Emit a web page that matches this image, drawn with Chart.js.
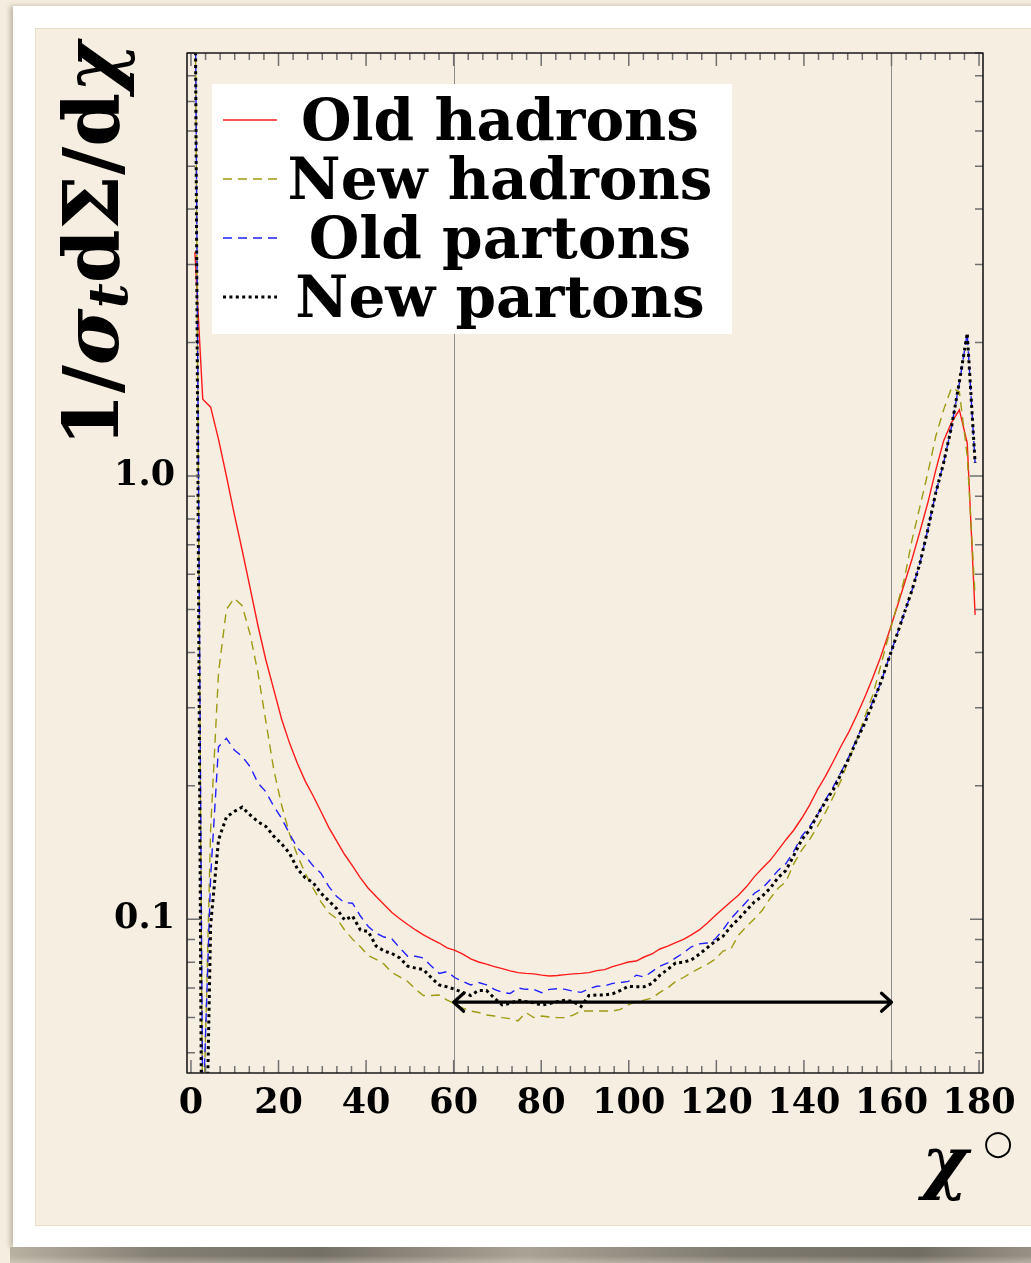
<!DOCTYPE html>
<html>
<head>
<meta charset="utf-8">
<script src="https://cdn.jsdelivr.net/npm/chart.js@4.4.1/dist/chart.umd.min.js"></script>
<style>
  html, body { margin: 0; padding: 0; }
  body { width: 1031px; height: 1263px; overflow: hidden; position: relative; background: #f5eee0; }
  .card { position: absolute; left: 13px; top: 6px; width: 1040px; height: 1241px; background: #fff;
          box-shadow: -3px 0 5px rgba(90, 80, 60, 0.35); }
  .panel { position: absolute; left: 35px; top: 28px; width: 1010px; height: 1196px;
           background: #f6efe1; border: 1px solid #e8dfcb; }
  .curl { position: absolute; left: 10px; top: 1247px; width: 1030px; height: 16px;
          background:
            linear-gradient(to bottom, rgba(245,238,224,0) 0%, rgba(245,238,224,0) 55%, rgba(245,238,224,0.35) 100%),
            linear-gradient(to right, #b8b1a2 0%, #858074 14%, #757066 30%, #a9a395 50%, #807b70 70%, #726d63 88%, #9a9488 100%); }
  #chart { position: absolute; left: 0; top: 0; }
</style>
</head>
<body>
<div class="card"></div>
<div class="panel"></div>
<div class="curl"></div>
<canvas id="chart" width="1031" height="1263"></canvas>
<script>
// 100 bins of 1.8 degrees over 0..180
const BIN_WIDTH = 1.8;

const oldHadrons = [
  3.2, 1.49, 1.43, 1.21, 1.0, 0.82, 0.68, 0.56, 0.46, 0.385,
  0.33, 0.283, 0.25, 0.225, 0.205, 0.19, 0.175, 0.161, 0.15, 0.14,
  0.132, 0.124, 0.1175, 0.1125, 0.108, 0.1036, 0.1003, 0.0973, 0.0946, 0.0922,
  0.0902, 0.0884, 0.0862, 0.0851, 0.0834, 0.0814, 0.0801, 0.0792, 0.0782, 0.0774,
  0.0765, 0.0758, 0.0755, 0.0753, 0.0748, 0.0745, 0.0747, 0.075, 0.0753, 0.0755,
  0.0758, 0.0766, 0.077, 0.0782, 0.0791, 0.0801, 0.0805, 0.0822, 0.0835, 0.0857,
  0.087, 0.0886, 0.0901, 0.0922, 0.0946, 0.098, 0.1019, 0.1056, 0.1095, 0.1134,
  0.1185, 0.1248, 0.1303, 0.1358, 0.1432, 0.1512, 0.159, 0.169, 0.181, 0.196,
  0.21, 0.227, 0.246, 0.265, 0.289, 0.317, 0.35, 0.39, 0.44, 0.5,
  0.57, 0.65, 0.75, 0.87, 1.03, 1.2, 1.32, 1.41, 1.187, 0.486
];

const newHadrons = [
  15, 0.03, 0.16, 0.36, 0.5, 0.53, 0.51, 0.44, 0.36, 0.28,
  0.218, 0.181, 0.156, 0.1394, 0.127, 0.1175, 0.1095, 0.1034, 0.1003, 0.0946,
  0.0902, 0.0867, 0.0828, 0.0812, 0.0792, 0.0758, 0.0741, 0.0724, 0.0695, 0.0673,
  0.0673, 0.0675, 0.0657, 0.0645, 0.063, 0.0621, 0.0616, 0.0608, 0.0605, 0.06,
  0.0597, 0.059, 0.0616, 0.06, 0.0605, 0.0602, 0.06, 0.06, 0.0608, 0.0621,
  0.0621, 0.0621, 0.0621, 0.0621, 0.0626, 0.0641, 0.0652, 0.0657, 0.0664, 0.0684,
  0.07, 0.0724, 0.0739, 0.0758, 0.0775, 0.0791, 0.0812, 0.0848, 0.0857, 0.0922,
  0.0963, 0.1003, 0.1048, 0.1115, 0.1175, 0.1215, 0.1335, 0.1432, 0.1512, 0.162,
  0.174, 0.189, 0.206, 0.23, 0.254, 0.2865, 0.32, 0.372, 0.434, 0.504,
  0.584, 0.718, 0.854, 1.016, 1.228, 1.41, 1.58, 1.55, 1.11, 0.535
];

const oldPartons = [
  17, 0.035, 0.125, 0.245, 0.256, 0.241, 0.233, 0.221, 0.203, 0.194,
  0.18, 0.169, 0.156, 0.145, 0.139, 0.132, 0.127, 0.1185, 0.1125, 0.109,
  0.1087, 0.1017, 0.0963, 0.093, 0.0912, 0.0903, 0.0862, 0.0825, 0.0825, 0.0818,
  0.0784, 0.0755, 0.0762, 0.0738, 0.0724, 0.0711, 0.072, 0.0711, 0.0695, 0.0684,
  0.068, 0.07, 0.0695, 0.0695, 0.0683, 0.0695, 0.0697, 0.0695, 0.0688, 0.0684,
  0.0697, 0.0706, 0.0707, 0.0717, 0.072, 0.0724, 0.0748, 0.0741, 0.0762, 0.0784,
  0.0797, 0.0818, 0.084, 0.0867, 0.088, 0.0884, 0.0902, 0.0946, 0.1003, 0.1048,
  0.1095, 0.1145, 0.1175, 0.1228, 0.1289, 0.1335, 0.1424, 0.154, 0.162, 0.172,
  0.186, 0.199, 0.215, 0.233, 0.256, 0.279, 0.31, 0.34, 0.385, 0.434,
  0.49, 0.553, 0.636, 0.757, 0.915, 1.07, 1.29, 1.62, 2.1, 1.07
];

const newPartons = [
  17, 0.011, 0.097, 0.151, 0.17, 0.175, 0.179, 0.172, 0.166, 0.162,
  0.154, 0.148, 0.141, 0.13, 0.124, 0.121, 0.1145, 0.11, 0.1056, 0.0996,
  0.1017, 0.0946, 0.0938, 0.087, 0.0848, 0.0837, 0.0818, 0.0784, 0.0776, 0.077,
  0.0738, 0.0711, 0.0704, 0.0695, 0.0684, 0.0673, 0.0691, 0.0691, 0.0664, 0.0641,
  0.0646, 0.0657, 0.0652, 0.0648, 0.0641, 0.0645, 0.0652, 0.0657, 0.0652, 0.0636,
  0.0673, 0.0675, 0.0675, 0.0679, 0.0691, 0.0706, 0.0704, 0.0704, 0.0717, 0.0748,
  0.0771, 0.0797, 0.08, 0.081, 0.0834, 0.0862, 0.0892, 0.0915, 0.0963, 0.1003,
  0.1048, 0.1095, 0.1128, 0.1175, 0.1242, 0.1289, 0.1394, 0.1512, 0.159, 0.172,
  0.184, 0.196, 0.213, 0.231, 0.254, 0.277, 0.307, 0.341, 0.385, 0.434,
  0.49, 0.553, 0.636, 0.757, 0.915, 1.07, 1.29, 1.63, 2.1, 1.07
];

const seriesLabels = ['Old hadrons', 'New hadrons', 'Old partons', 'New partons'];
const xTickValues = [0, 20, 40, 60, 80, 100, 120, 140, 160, 180];
const yTickValues = [0.1, 1.0];
const markerAngles = [60, 160];   // vertical reference lines
const arrowSpan = [60, 160];      // fit range arrow
const arrowLevel = 0.065;

const binCentres = oldHadrons.map((_, i) => BIN_WIDTH * (i + 0.5));
const toPoints = vals => vals.map((v, i) => ({ x: binCentres[i], y: v }));

const SERIF = '"DejaVu Serif", "Liberation Serif", serif';
const tickFont = { family: SERIF, size: 35, weight: 'bold' };

const decor = {
  id: 'decor',
  beforeDatasetsDraw(chart) {
    const { ctx, chartArea: a, scales: { x } } = chart;
    ctx.save();
    ctx.strokeStyle = '#8c8c8c';
    ctx.lineWidth = 1;
    markerAngles.forEach(v => {
      const px = Math.round(x.getPixelForValue(v)) + 0.5;
      ctx.beginPath();
      ctx.moveTo(px, a.top);
      ctx.lineTo(px, a.bottom);
      ctx.stroke();
    });
    ctx.restore();
  },
  afterDatasetsDraw(chart) {
    const { ctx, chartArea: a, scales: { x, y } } = chart;
    ctx.save();

    // arrow across the fit range
    const ay = y.getPixelForValue(arrowLevel);
    const ax0 = x.getPixelForValue(arrowSpan[0]);
    const ax1 = x.getPixelForValue(arrowSpan[1]);
    ctx.strokeStyle = '#000';
    ctx.lineWidth = 3.2;
    ctx.lineCap = 'round';
    ctx.lineJoin = 'round';
    ctx.beginPath();
    ctx.moveTo(ax0, ay); ctx.lineTo(ax1, ay);
    ctx.moveTo(ax0 + 10, ay - 9); ctx.lineTo(ax0, ay); ctx.lineTo(ax0 + 10, ay + 9);
    ctx.moveTo(ax1 - 10, ay - 9); ctx.lineTo(ax1, ay); ctx.lineTo(ax1 - 10, ay + 9);
    ctx.stroke();

    // inward tick marks on all four sides
    ctx.lineCap = 'butt';
    ctx.strokeStyle = '#707070';
    ctx.lineWidth = 1.5;
    ctx.beginPath();
    for (let k = 0; k <= 54; k++) {
      const v = k * 10 / 3;
      const len = k % 6 === 0 ? 13 : 7;
      const px = x.getPixelForValue(v);
      ctx.moveTo(px, a.bottom); ctx.lineTo(px, a.bottom - len);
      ctx.moveTo(px, a.top); ctx.lineTo(px, a.top + len);
    }
    [0.01, 0.1, 1].forEach(dec => {
      for (let m = 1; m <= 9; m++) {
        const v = m * dec;
        if (v < y.min || v > y.max) continue;
        const len = m === 1 ? 13 : 8;
        const py = y.getPixelForValue(v);
        ctx.moveTo(a.left, py); ctx.lineTo(a.left + len, py);
        ctx.moveTo(a.right, py); ctx.lineTo(a.right - len, py);
      }
    });
    ctx.stroke();

    // frame
    ctx.strokeStyle = '#1a1a1a';
    ctx.lineWidth = 1.6;
    ctx.strokeRect(a.left, a.top, a.right - a.left, a.bottom - a.top);

    // legend
    const lx = a.left + 25, ly = a.top + 31;
    ctx.fillStyle = '#ffffff';
    ctx.fillRect(lx, ly, 520, 250);
    ctx.font = 'bold 58px ' + SERIF;
    const wRef = ctx.measureText('Old hadrons').width;
    const sx = Math.min(1.25, Math.max(0.85, 398 / wRef));
    chart.data.datasets.forEach((ds, i) => {
      const base = ly + 56 + i * 59;
      ctx.save();
      ctx.strokeStyle = ds.borderColor;
      ctx.lineWidth = ds.borderWidth;
      ctx.setLineDash(ds.borderDash || []);
      ctx.beginPath();
      ctx.moveTo(lx + 11, base - 20);
      ctx.lineTo(lx + 65, base - 20);
      ctx.stroke();
      ctx.restore();
      ctx.save();
      ctx.translate(lx + 288, base);
      ctx.scale(sx, 1);
      ctx.fillStyle = '#000';
      ctx.textAlign = 'center';
      ctx.textBaseline = 'alphabetic';
      ctx.fillText(ds.label, 0, 0);
      ctx.restore();
    });

    // y-axis title: 1/sigma_t dSigma/dchi, read bottom to top
    const parts = [
      { t: '1/', st: 'bold', s: 1, dy: 0 },
      { t: 'σ', st: 'italic bold', s: 1, dy: 0 },
      { t: 't', st: 'italic bold', s: 0.7, dy: 9 },
      { t: 'dΣ/d', st: 'bold', s: 1, dy: 0 },
      { t: 'χ', st: 'italic bold', s: 1, dy: 0 }
    ];
    let total = 0;
    parts.forEach(p => {
      ctx.font = p.st + ' ' + (100 * p.s) + 'px ' + SERIF;
      total += ctx.measureText(p.t).width;
    });
    const size = 100 * 405 / total;
    ctx.save();
    ctx.translate(118, 447);
    ctx.rotate(-Math.PI / 2);
    ctx.fillStyle = '#000';
    ctx.textBaseline = 'alphabetic';
    let cx = 0;
    parts.forEach(p => {
      ctx.font = p.st + ' ' + (size * p.s) + 'px ' + SERIF;
      ctx.fillText(p.t, cx, p.dy);
      cx += ctx.measureText(p.t).width;
    });
    ctx.restore();

    // x-axis title
    ctx.fillStyle = '#000';
    ctx.font = 'italic bold 70px ' + SERIF;
    ctx.textAlign = 'left';
    ctx.textBaseline = 'alphabetic';
    ctx.fillText('χ', 922, 1186);
    ctx.font = '34px "DejaVu Sans", sans-serif';
    ctx.textAlign = 'center';
    ctx.textBaseline = 'middle';
    ctx.fillText('○', 998, 1145);

    ctx.restore();
  }
};

new Chart(document.getElementById('chart'), {
  type: 'line',
  data: {
    datasets: [
      { label: seriesLabels[0], data: toPoints(oldHadrons), borderColor: '#ff1a1a',
        borderWidth: 1.4, order: 3 },
      { label: seriesLabels[1], data: toPoints(newHadrons), borderColor: '#9f9a12',
        borderWidth: 1.4, borderDash: [9, 6], order: 2 },
      { label: seriesLabels[2], data: toPoints(oldPartons), borderColor: '#1f1fff',
        borderWidth: 1.4, borderDash: [9, 6], order: 1 },
      { label: seriesLabels[3], data: toPoints(newPartons), borderColor: '#000000',
        borderWidth: 3, borderDash: [3, 3.4], order: 0 }
    ]
  },
  options: {
    responsive: false,
    animation: false,
    devicePixelRatio: 1,
    elements: { point: { radius: 0 }, line: { tension: 0, fill: false } },
    layout: { padding: { left: 0, top: 53, right: 48, bottom: 0 } },
    plugins: { legend: { display: false }, tooltip: { enabled: false } },
    scales: {
      x: {
        type: 'linear', min: -0.9, max: 180.9,
        grid: { display: false, drawTicks: false },
        border: { display: false },
        ticks: { font: tickFont, color: '#000', padding: 10, maxRotation: 0, autoSkip: false },
        afterBuildTicks: s => { s.ticks = xTickValues.map(v => ({ value: v })); },
        afterFit: s => { s.height = 190; }
      },
      y: {
        type: 'logarithmic', min: 0.045, max: 9,
        grid: { display: false, drawTicks: false },
        border: { display: false },
        ticks: { font: tickFont, color: '#000', padding: 12, callback: v => Number(v).toFixed(1) },
        afterBuildTicks: s => { s.ticks = yTickValues.map(v => ({ value: v })); },
        afterFit: s => { s.width = 187; }
      }
    }
  },
  plugins: [decor]
});
</script>
</body>
</html>
